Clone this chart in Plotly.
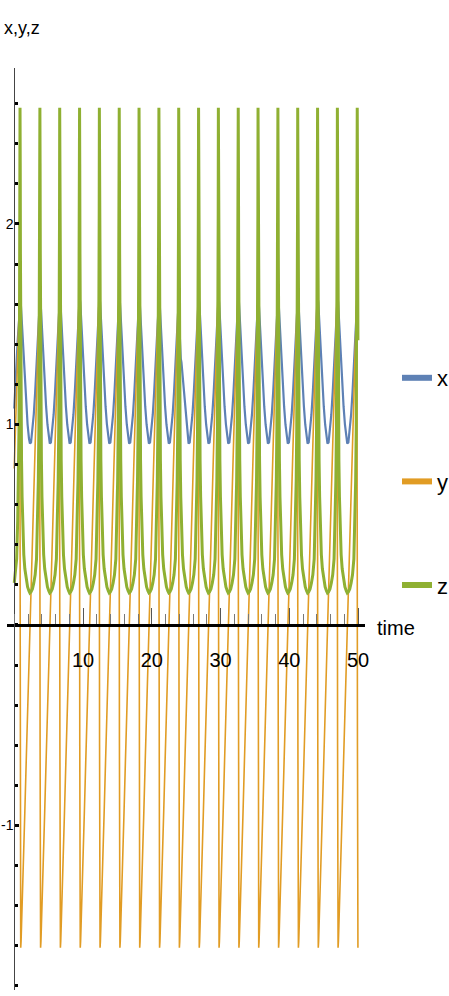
import plotly.graph_objects as go

# ---- data ----
# times of the green (z) spikes
spike_times = [0.84, 3.73, 6.61, 9.50, 12.38, 15.27, 18.15, 21.04, 23.92,
               26.81, 29.69, 32.58, 35.46, 38.35, 41.23, 44.12, 47.00, 49.89]
# one cycle, sampled at time offsets after a spike
cycle_offsets = [0.00, 0.03, 0.06, 0.10, 0.15, 0.22, 0.30, 0.40, 0.55, 0.70,
                 0.90, 1.10, 1.30, 1.44, 1.60, 1.80, 2.00, 2.20, 2.40, 2.55,
                 2.66, 2.74, 2.80, 2.83, 2.855]
x_cycle = [1.60, 1.615, 1.62, 1.61, 1.58, 1.53, 1.47, 1.40, 1.30, 1.20,
           1.09, 1.00, 0.93, 0.905, 0.91, 0.97, 1.05, 1.16, 1.32, 1.42,
           1.49, 1.54, 1.57, 1.585, 1.595]
y_cycle = [0.40, -0.60, -1.30, -1.61, -1.58, -1.50, -1.42, -1.30, -1.12, -0.93,
           -0.68, -0.43, -0.18, 0.00, 0.19, 0.43, 0.67, 0.93, 1.17, 1.35,
           1.48, 1.57, 1.62, 1.60, 1.35]
z_cycle = [2.58, 2.30, 1.85, 1.42, 1.08, 0.82, 0.64, 0.50, 0.35, 0.28,
           0.22, 0.19, 0.17, 0.16, 0.165, 0.18, 0.21, 0.25, 0.33, 0.52,
           0.72, 0.98, 1.35, 1.65, 2.05]
# values at t = 0
x_start, y_start, z_start = 1.08, 0.78, 0.21
t_end = 50.0
# small kink of x after the spike at t = 23.92
kink_cycle = 8
x_kink = {0.15: 1.45, 0.22: 1.36, 0.30: 1.33, 0.40: 1.31, 0.55: 1.25}

series_names = ["x", "y", "z"]
series_colors = ["#5E81B5", "#E19C24", "#8FB032"]
series_widths = [2.2, 1.6, 3.0]

# ---- build the sampled series ----
t_all, xs, ys, zs = [0.0], [x_start], [y_start], [z_start]
period = spike_times[1] - spike_times[0]
first = spike_times[0]
for off, a, b, c in zip(cycle_offsets, x_cycle, y_cycle, z_cycle):
    if off > period - first:
        t_all.append(first - period + off); xs.append(a); ys.append(b); zs.append(c)
for k, ts in enumerate(spike_times):
    for off, a, b, c in zip(cycle_offsets, x_cycle, y_cycle, z_cycle):
        t = ts + off
        if t > t_end:
            break
        if k == kink_cycle and off in x_kink:
            a = x_kink[off]
        t_all.append(t); xs.append(a); ys.append(b); zs.append(c)

# ---- layout geometry ----
W, H = 449, 996
x_range = [-1.0, 51.0]
y_range = [-1.82, 2.78]
x_dom = [7.375 / W, 364.875 / W]
y_dom = [(H - 989.9) / H, (H - 67.6) / H]
x_axis_pos = y_dom[0] + (0 - y_range[0]) / (y_range[1] - y_range[0]) * (y_dom[1] - y_dom[0])
y_axis_pos = x_dom[0] + (0 - x_range[0]) / (x_range[1] - x_range[0]) * (x_dom[1] - x_dom[0])

FONT = "Liberation Sans, Arial, sans-serif"

fig = go.Figure()
for name, vals, col, w in zip(series_names, [xs, ys, zs], series_colors, series_widths):
    fig.add_trace(go.Scatter(x=t_all, y=vals, mode="lines", name=name,
                             line=dict(color=col, width=w), showlegend=False,
                             hoverinfo="skip"))
# legend swatches
for name, col in zip(series_names, series_colors):
    fig.add_trace(go.Scatter(x=[None], y=[None], mode="lines", name=name,
                             line=dict(color=col, width=6), legendgroup=name,
                             showlegend=True))

fig.update_layout(
    width=W, height=H,
    margin=dict(l=0, r=0, t=0, b=0, autoexpand=False),
    paper_bgcolor="white", plot_bgcolor="white",
    font=dict(family=FONT, color="black", size=20),
    legend=dict(x=397 / W, y=(H - 357) / H, xanchor="left", yanchor="top",
                tracegroupgap=72, font=dict(size=22, family=FONT),
                bgcolor="rgba(0,0,0,0)", itemwidth=30),
    xaxis=dict(range=x_range, domain=x_dom, anchor="free", position=x_axis_pos,
               showgrid=False, zeroline=False, showline=True, linecolor="black",
               linewidth=2.5, ticks="inside", ticklen=16, tickwidth=1,
               tickcolor="#555", tickvals=[10, 20, 30, 40, 50],
               ticklabelstandoff=16, tickfont=dict(size=20),
               minor=dict(dtick=2, tick0=0, ticks="inside", ticklen=10,
                          tickwidth=1, tickcolor="#777"),
               layer="above traces", automargin=False),
    yaxis=dict(range=y_range, domain=y_dom, anchor="free", position=y_axis_pos,
               showgrid=False, zeroline=False, showline=True, linecolor="#444",
               linewidth=1, ticks="inside", ticklen=4, tickwidth=2.5,
               tickcolor="black", tickvals=[-1, 1, 2], ticktext=["-1", "1", "2"],
               ticklabelstandoff=-2, tickfont=dict(size=14),
               minor=dict(dtick=0.2, tick0=0, ticks="inside", ticklen=3,
                          tickwidth=2.5, tickcolor="black"),
               layer="above traces", automargin=False),
    annotations=[
        dict(text="x,y,z", x=2 / W, y=(H - 16) / H, xref="paper", yref="paper",
             xanchor="left", showarrow=False, font=dict(size=18, family=FONT)),
        dict(text="time", x=375 / W, y=(H - 628) / H, xref="paper", yref="paper",
             xanchor="left", showarrow=False, font=dict(size=20, family=FONT)),
    ],
)

fig.write_html("out.html", config={"displayModeBar": False},
               post_script="document.body.style.margin='0px';")
